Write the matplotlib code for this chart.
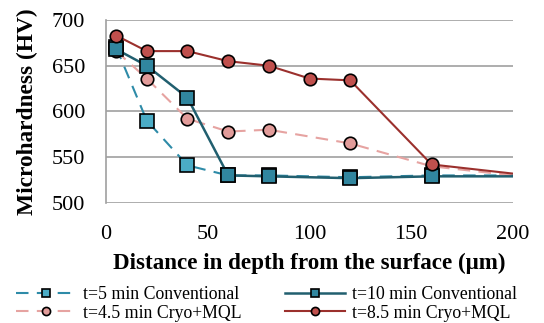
import matplotlib
matplotlib.use("Agg")
import matplotlib.pyplot as plt

x_conv5 = [5, 20, 40, 60, 80, 120, 160, 200]
y_conv5 = [670, 590, 541, 530, 530, 528, 530, 530]
x_conv10 = [5, 20, 40, 60, 80, 120, 160, 200]
y_conv10 = [668, 650, 615, 530, 529, 527, 529, 529]
x_cryo45 = [5, 20, 40, 60, 80, 120, 160, 200]
y_cryo45 = [666, 636, 592, 578, 580, 565, 540, 530]
x_cryo85 = [5, 20, 40, 60, 80, 100, 120, 160, 200]
y_cryo85 = [683, 666, 666, 655, 650, 636, 634, 542, 532]

labels = ["t=5 min Conventional", "t=10 min Conventional",
          "t=4.5 min Cryo+MQL", "t=8.5 min Cryo+MQL"]

plt.rcParams['font.family'] = ['Liberation Serif', 'DejaVu Serif']

fig = plt.figure(figsize=(5.44, 3.23), dpi=100)
ax = fig.add_axes([0.195, 0.372, 0.748, 0.566])

l1, = ax.plot(x_conv5, y_conv5, color='#2E8BA8', lw=1.5, ls=(0, (6, 4)),
              marker='s', ms=9.5, mfc='#4BACC6', mec='black', mew=1.2,
              markevery=list(range(len(x_conv5) - 1)), zorder=3)
l3, = ax.plot(x_cryo45, y_cryo45, color='#E6A3A1', lw=1.5, ls=(0, (6, 4)),
              marker='o', ms=9, mfc='#E29C9A', mec='black', mew=1.2,
              markevery=list(range(len(x_cryo45) - 1)), zorder=3)
l2, = ax.plot(x_conv10, y_conv10, color='#215F6F', lw=1.8, ls='-',
              marker='s', ms=9.5, mfc='#31869F', mec='black', mew=1.2,
              markevery=list(range(len(x_conv10) - 1)), zorder=4)
l4, = ax.plot(x_cryo85, y_cryo85, color='#9B302D', lw=1.5, ls='-',
              marker='o', ms=9, mfc='#C0504D', mec='black', mew=1.2,
              markevery=list(range(len(x_cryo85) - 1)), zorder=5)

ax.set_xlim(0, 200)
ax.set_ylim(500, 700)
ax.set_xticks([0, 50, 100, 150, 200])
ax.set_yticks([500, 550, 600, 650, 700])
ax.grid(axis='y', color='#A0A0A0', lw=1.2)
ax.set_axisbelow(True)
for s in ['top', 'right', 'bottom']:
    ax.spines[s].set_visible(False)
ax.spines['left'].set_color('#A0A0A0')
ax.spines['left'].set_linewidth(1.2)
ax.tick_params(length=0, labelsize=16, colors='black')
ax.tick_params(axis='y', pad=15)
ax.tick_params(axis='x', pad=16)

ax.set_xlabel("Distance in depth from the surface (μm)", fontsize=16.6,
              fontweight='bold', labelpad=6)
ax.set_ylabel("Microhardness (HV)", fontsize=16.8, fontweight='bold', labelpad=10)

fig.legend([l1, l3, l2, l4], [labels[0], labels[2], labels[1], labels[3]],
           loc='lower center', ncol=2,
           bbox_to_anchor=(0.49, -0.045), frameon=False, fontsize=12.8,
           handlelength=3.4, columnspacing=2.4, handletextpad=0.4,
           labelspacing=0.1, markerscale=0.65)

fig.savefig("out.png", dpi=100)
